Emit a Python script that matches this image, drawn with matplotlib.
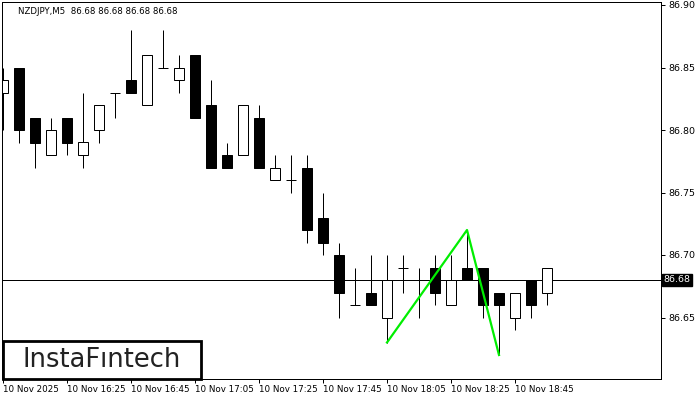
import numpy as np
from matplotlib import pyplot as plt
from matplotlib.patches import Rectangle

# Candle values, NZDJPY M5, one candle every 5 minutes from 16:05
opens = [86.83, 86.85, 86.81, 86.78, 86.81, 86.78, 86.80, 86.83, 86.84, 86.82,
         86.85, 86.84, 86.86, 86.82, 86.78, 86.78, 86.81, 86.76, 86.76, 86.77,
         86.73, 86.70, 86.66, 86.67, 86.65, 86.69, 86.68, 86.69, 86.66, 86.69,
         86.69, 86.67, 86.65, 86.68, 86.67]
highs = [86.85, 86.85, 86.81, 86.81, 86.81, 86.83, 86.82, 86.83, 86.88, 86.86,
         86.88, 86.86, 86.86, 86.84, 86.79, 86.82, 86.82, 86.78, 86.78, 86.78,
         86.75, 86.71, 86.69, 86.70, 86.70, 86.70, 86.69, 86.70, 86.70, 86.72,
         86.69, 86.67, 86.67, 86.68, 86.69]
lows = [86.80, 86.79, 86.77, 86.78, 86.78, 86.77, 86.79, 86.81, 86.83, 86.82,
        86.85, 86.83, 86.81, 86.77, 86.77, 86.78, 86.77, 86.76, 86.75, 86.71,
        86.70, 86.65, 86.66, 86.66, 86.63, 86.67, 86.65, 86.66, 86.66, 86.68,
        86.65, 86.62, 86.64, 86.65, 86.66]
closes = [86.84, 86.80, 86.79, 86.80, 86.79, 86.79, 86.82, 86.83, 86.83, 86.86,
          86.85, 86.85, 86.81, 86.77, 86.77, 86.82, 86.77, 86.77, 86.76, 86.72,
          86.71, 86.67, 86.66, 86.66, 86.68, 86.69, 86.68, 86.67, 86.68, 86.68,
          86.66, 86.66, 86.67, 86.66, 86.69]

# Pattern line (candle index, price) and current price
pattern_idx = [24, 29, 31]
pattern_price = [86.63, 86.72, 86.62]
last_price = 86.68

tick_idx = [0, 4, 8, 12, 16, 20, 24, 28, 32]
tick_labels = ['10 Nov 2025', '10 Nov 16:25', '10 Nov 16:45', '10 Nov 17:05',
               '10 Nov 17:25', '10 Nov 17:45', '10 Nov 18:05', '10 Nov 18:25',
               '10 Nov 18:45']
price_ticks = [86.65, 86.70, 86.75, 86.80, 86.85, 86.90]

plt.rcParams['font.family'] = 'DejaVu Sans'
fig = plt.figure(figsize=(7, 4), dpi=100)
ax = fig.add_axes([2 / 700, 21 / 400, 659 / 700, 377 / 400])

x = np.arange(len(opens))
o = np.array(opens)
c = np.array(closes)
px = 0.72  # one pixel in points

# wicks first so the bodies sit on top
ax.vlines(x, lows, highs, color='black', lw=px, zorder=1)

body_w = 0.65
up = c > o
down = c < o
flat = c == o
ax.bar(x[up], (c - o)[up], bottom=o[up], width=body_w, color='white',
       edgecolor='black', lw=px, zorder=2)
ax.bar(x[down], (o - c)[down], bottom=c[down], width=body_w, color='black',
       edgecolor='black', lw=px, zorder=2)
ax.hlines(o[flat], x[flat] - body_w / 2, x[flat] + body_w / 2, color='black',
          lw=px, zorder=2)

# current price line
ax.axhline(last_price, color='black', lw=px, zorder=1.5)

# double top/bottom pattern
ax.plot(pattern_idx, pattern_price, color='#00ee00', lw=1.6, zorder=3)

ax.set_xlim(-0.0625, 41.125)
ax.set_ylim(86.6008, 86.9024)

ax.yaxis.tick_right()
ax.set_yticks(price_ticks)
ax.set_yticklabels([f'{p:.2f}' for p in price_ticks])
ax.tick_params(axis='y', length=3, width=px, pad=2, labelsize=6.8)

ax.set_xticks(tick_idx)
ax.set_xticklabels(tick_labels, ha='left')
ax.tick_params(axis='x', length=3, width=px, pad=1.5, labelsize=6.3)
for lab in ax.get_xticklabels():
    lab.set_x(0)

for s in ax.spines.values():
    s.set_linewidth(px)

# label for the current price on the right axis
ax.text(1.004, last_price, f'{last_price:.2f}', transform=ax.get_yaxis_transform(),
        ha='left', va='center', color='white', fontsize=6.8,
        bbox=dict(boxstyle='square,pad=0.15', fc='black', ec='black'))

# symbol header
fig.text(18 / 700, 1 - 11 / 400, 'NZDJPY,M5  86.68 86.68 86.68 86.68',
         fontsize=6.2, va='center', ha='left')

# logo box
fig.add_artist(Rectangle((3 / 700, 21 / 400), 198 / 700, 38 / 400,
                         transform=fig.transFigure, fc='white', ec='black',
                         lw=2, zorder=5))
fig.text(102 / 700, 1 - 360 / 400, 'InstaF\u0131ntech', fontsize=18.5,
         ha='center', va='center', color='#222222', zorder=6)

fig.savefig('out.png', dpi=100)
